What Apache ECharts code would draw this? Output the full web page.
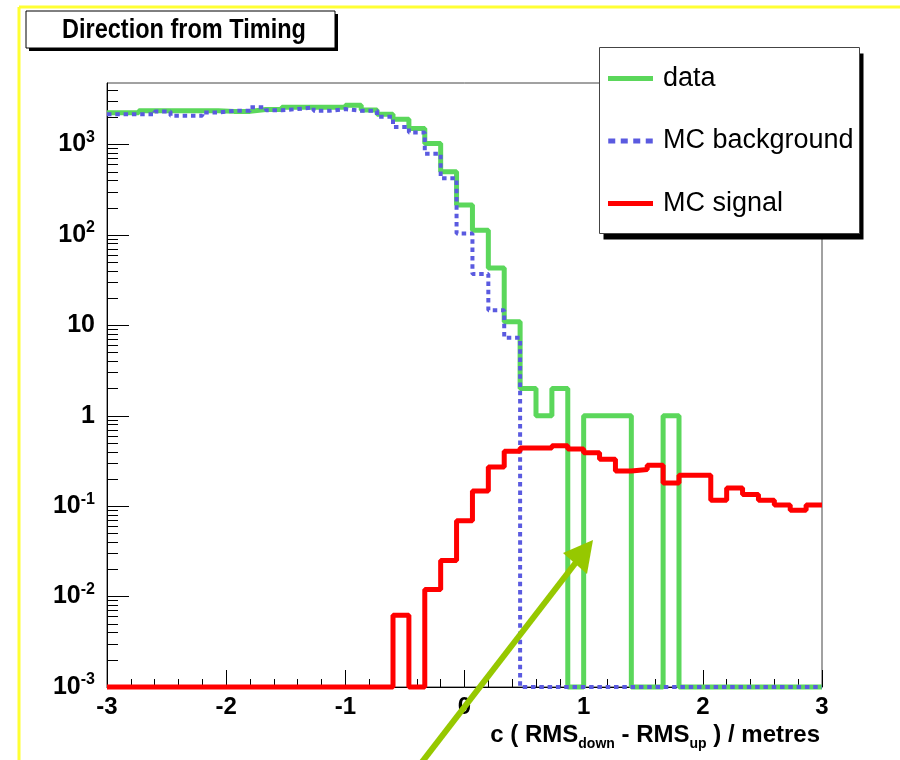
<!DOCTYPE html>
<html lang="en">
<head>
<meta charset="UTF-8">
<title>Direction from Timing</title>
<style>
  html, body { margin: 0; padding: 0; background: #fff; }
  #main { width: 900px; height: 760px; }
</style>
<script src="https://cdn.jsdelivr.net/npm/echarts@6.0.0/dist/echarts.min.js"></script>
</head>
<body>
<div id="main"></div>
<script>
// histogram binning: 45 bins on [-3, 3]
var xMin = -3, xMax = 3, nBins = 45;
var yFloor = 0.001, yTop = 4800;

var dataCounts = [2250, 2250, 2370, 2370, 2370, 2370, 2370, 2330, 2330, 2450,
                  2450, 2580, 2580, 2580, 2580, 2720, 2420, 2170, 1910, 1510,
                  1030, 500, 214, 113, 43, 11, 2, 1, 2, 0,
                  1, 1, 1, 0, 0, 1, 0, 0, 0, 0,
                  0, 0, 0, 0, 0];
var mcBackground = [2160, 2160, 2160, 2330, 2085, 2085, 2270, 2360, 2360, 2580,
                    2400, 2470, 2570, 2360, 2470, 2360, 2360, 2030, 1570, 1360,
                    790, 423, 104, 37, 14.7, 7.3, 0, 0, 0, 0,
                    0, 0, 0, 0, 0, 0, 0, 0, 0, 0,
                    0, 0, 0, 0, 0];
var mcSignal = [0, 0, 0, 0, 0, 0, 0, 0, 0, 0,
                0, 0, 0, 0, 0, 0, 0, 0, 0.0062, 0,
                0.012, 0.025, 0.069, 0.147, 0.272, 0.405, 0.441, 0.441, 0.465, 0.43,
                0.39, 0.33, 0.245, 0.254, 0.284, 0.181, 0.22, 0.22, 0.116, 0.159,
                0.135, 0.116, 0.103, 0.090, 0.103];

var xTicks = [-3, -2, -1, 0, 1, 2, 3];
var yDecades = [0.001, 0.01, 0.1, 1, 10, 100, 1000];

var font = '"Liberation Sans", Arial, Helvetica, sans-serif';

var binWidth = (xMax - xMin) / nBins;

// step points at bin edges; empty bins sit on the axis floor like ROOT does
function toSteps(vals) {
    var pts = [];
    for (var i = 0; i < vals.length; i++) {
        pts.push([xMin + i * binWidth, vals[i] > 0 ? vals[i] : yFloor]);
    }
    var last = vals[vals.length - 1];
    pts.push([xMax, last > 0 ? last : yFloor]);
    return pts;
}

var yMinor = [];
yDecades.forEach(function (d) {
    for (var m = 2; m <= 9; m++) {
        if (d * m < yTop) yMinor.push(+(d * m).toPrecision(3));
    }
});

function decadeLabel(v) {
    var e = Math.round(Math.log10(v));
    if (e === 0) return '{b|1}';
    if (e === 1) return '{b|10}';
    return '{b|10}{s|' + e + '}';
}

var chart = echarts.init(document.getElementById('main'));

var option = {
    animation: false,
    backgroundColor: '#fff',
    grid: { left: 107, right: 78, top: 83, bottom: 73, show: true, borderColor: '#444', borderWidth: 1 },
    xAxis: {
        type: 'value', min: xMin, max: xMax, interval: 1,
        axisLine: { onZero: false, lineStyle: { color: '#000', width: 1 } },
        axisTick: { inside: true, length: 17, lineStyle: { color: '#000' } },
        minorTick: { show: true, splitNumber: 5, length: 8, lineStyle: { color: '#000' } },
        splitLine: { show: false },
        axisLabel: {
            margin: 8, color: '#000', fontSize: 24, fontWeight: 'bold', fontFamily: font,
            customValues: xTicks,
            formatter: function (v) { return String(v); }
        },
        name: '{t|c ( RMS}{sub|down}{t| - RMS}{sub|up}{t| ) / metres}',
        nameLocation: 'end',
        nameGap: -2,
        nameTextStyle: {
            align: 'right', verticalAlign: 'top', padding: [32, 0, 0, 0],
            rich: {
                t: { fontSize: 24, fontWeight: 'bold', fontFamily: font, color: '#000', lineHeight: 32 },
                sub: { fontSize: 14, fontWeight: 'bold', fontFamily: font, color: '#000', lineHeight: 14, verticalAlign: 'bottom' }
            }
        }
    },
    yAxis: [{
        type: 'log', logBase: 10, min: yFloor, max: yTop,
        axisLine: { show: true, onZero: false, lineStyle: { color: '#000', width: 1 } },
        axisTick: { inside: true, length: 22, lineStyle: { color: '#000' }, customValues: yDecades },
        splitLine: { show: false },
        axisLabel: {
            margin: 12, customValues: yDecades,
            formatter: decadeLabel,
            rich: {
                b: { fontSize: 25, fontWeight: 'bold', fontFamily: font, color: '#000', lineHeight: 30 },
                s: { fontSize: 16, fontWeight: 'bold', fontFamily: font, color: '#000', lineHeight: 16, verticalAlign: 'top' }
            }
        }
    }, {
        type: 'log', logBase: 10, min: yFloor, max: yTop, position: 'left',
        axisLine: { show: false, onZero: false },
        axisTick: { inside: true, length: 11, lineStyle: { color: '#000' }, customValues: yMinor },
        axisLabel: { show: false },
        splitLine: { show: false }
    }],
    legend: {
        orient: 'vertical', left: 603, top: 60, z: 10,
        itemWidth: 45, itemHeight: 5, itemGap: 35.5,
        selectedMode: false,
        itemStyle: { borderWidth: 0 },
        formatter: function (n) { return '{a|' + n + '}'; },
        textStyle: {
            rich: { a: { fontSize: 27, fontFamily: font, color: '#000', lineHeight: 28, padding: [0, 0, 0, 5] } }
        },
        data: [
            { name: 'data', icon: 'rect' },
            { name: 'MC background', icon: 'path://M0,0h7v5h-7z M12.5,0h7v5h-7z M25,0h7v5h-7z M37.5,0h7v5h-7z' },
            { name: 'MC signal', icon: 'rect' }
        ]
    },
    series: [{
        name: 'data', type: 'line', step: 'end', showSymbol: false, clip: false, z: 2,
        itemStyle: { color: '#5bd75b' },
        lineStyle: { color: '#5bd75b', width: 5 },
        data: toSteps(dataCounts)
    }, {
        name: 'MC background', type: 'line', step: 'end', showSymbol: false, clip: false, z: 3,
        itemStyle: { color: '#5a5ae0' },
        lineStyle: { color: '#5a5ae0', width: 4, type: [4.5, 3.8], cap: 'butt' },
        data: toSteps(mcBackground)
    }, {
        name: 'MC signal', type: 'line', step: 'end', showSymbol: false, clip: false, z: 4,
        itemStyle: { color: '#ff0000' },
        lineStyle: { color: '#ff0000', width: 5 },
        data: toSteps(mcSignal)
    }],
    graphic: [
        // yellow canvas edge
        { type: 'line', z: 1, shape: { x1: 19, y1: 7, x2: 900, y2: 7 }, style: { stroke: '#ffff33', lineWidth: 3 } },
        { type: 'line', z: 1, shape: { x1: 19, y1: 7, x2: 19, y2: 760 }, style: { stroke: '#ffff33', lineWidth: 3 } },
        // title box
        { type: 'rect', z: 5, shape: { x: 29, y: 14, width: 309, height: 37 }, style: { fill: '#000' } },
        { type: 'rect', z: 6, shape: { x: 26, y: 11, width: 309, height: 37 }, style: { fill: '#fff', stroke: '#000', lineWidth: 1 } },
        {
            type: 'text', z: 7, x: 184, y: 30, scaleX: 0.84,
            style: { text: 'Direction from Timing', fill: '#000', font: 'bold 28px ' + font, align: 'center', verticalAlign: 'middle' }
        },
        // legend frame
        { type: 'rect', z: 5, shape: { x: 603.5, y: 53.5, width: 260, height: 186 }, style: { fill: '#000' } },
        { type: 'rect', z: 6, shape: { x: 599.5, y: 47.5, width: 260, height: 186 }, style: { fill: '#fff', stroke: '#444', lineWidth: 1 } },
        // green arrow
        { type: 'line', z: 20, shape: { x1: 422, y1: 762, x2: 577, y2: 561 }, style: { stroke: '#96c800', lineWidth: 6 } },
        { type: 'polygon', z: 20, shape: { points: [[593, 540], [563, 553], [587, 574]] }, style: { fill: '#96c800' } }
    ]
};

chart.setOption(option);
</script>
</body>
</html>
